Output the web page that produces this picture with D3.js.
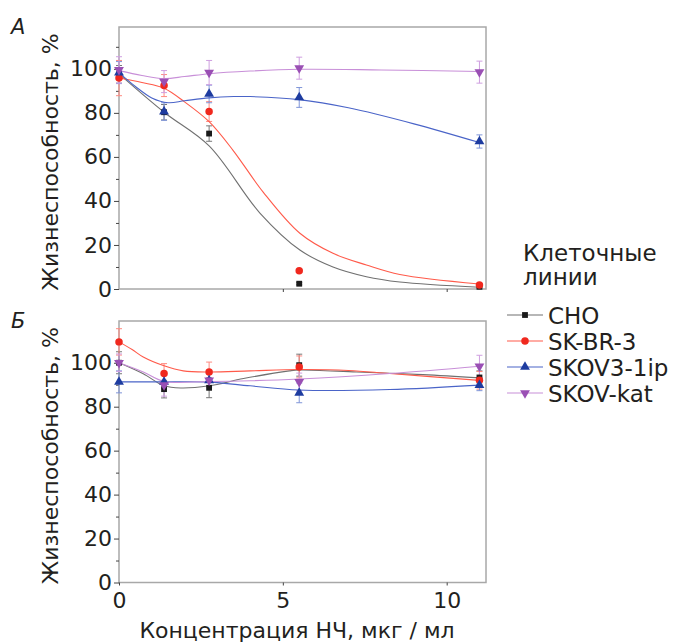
<!DOCTYPE html>
<html>
<head>
<meta charset="utf-8">
<script src="https://cdn.jsdelivr.net/npm/d3@7"></script>
<style>
  body { margin: 0; background: #fff; }
  svg text { font-family: "DejaVu Sans", sans-serif; fill: #231f20; }
</style>
</head>
<body>
<svg id="chart" width="673" height="642"></svg>
<script>
// ---- data ----
const concentrations = [0, 1.375, 2.75, 5.5, 11];
const cellLines = ["CHO", "SK-BR-3", "SKOV3-1ip", "SKOV-kat"];
const xTicks = [0, 5, 10];
const yTicks = [0, 20, 40, 60, 80, 100];
const yMinorTicks = [10, 30, 50, 70, 90, 110];

// panel A: measured means and errors
const aCHO = [97.5, 80.3, 70.6, 2.4, 1.0];
const aSKBR3 = [95.8, 92.4, 80.6, 8.3, 1.8];
const aSKOV3 = [98.3, 80.6, 88.6, 87.0, 67.0];
const aSKOVkat = [99.5, 94.2, 98.3, 100.3, 98.5];
const aCHOerr = [4, 3.5, 3.5, 0.5, 0.5];
const aSKBR3err = [8, 5, 4.5, 0, 0];
const aSKOV3err = [5, 4, 4, 4.5, 3];
const aSKOVkatErr = [6, 5, 5.5, 5, 5];

// panel A: fitted curves (x, y pairs)
const aCHOfit = [[0, 97.7], [1.375, 80.3], [2.75, 65], [4.3, 34.5], [5.52, 17.7], [6.53, 10], [7.55, 5.6], [8.57, 3.2], [11, 0.8]];
const aSKBR3fit = [[0, 95.8], [0.7, 93.8], [1.375, 91.2], [2, 85], [2.75, 76], [3.48, 63], [4.4, 44], [5.52, 25.3], [6.53, 16.2], [7.55, 10.9], [8.57, 6.6], [11, 2.3]];
const aSKOV3fit = [[0, 98.3], [0.5, 92], [1, 86.8], [1.5, 84.6], [2, 85.5], [2.75, 86.8], [3.5, 87.4], [4, 87.4], [5.5, 86], [7, 82.3], [9, 75], [11, 66.5]];
const aSKOVkatFit = [[0, 99.2], [0.7, 97], [1.375, 95.6], [2, 96.5], [2.75, 97.8], [4, 99], [5.5, 99.8], [8, 99.5], [11, 98.8]];

// panel B: measured means and errors
const bCHO = [100, 88, 88.6, 98.9, 93.3];
const bSKBR3 = [109.5, 95.1, 95.8, 98.1, 92];
const bSKOV3 = [91.3, 91.3, 92, 86.3, 89.8];
const bSKOVkat = [100, 89.8, 92, 91.3, 98.4];
const bCHOerr = [5, 4, 4.5, 5, 3];
const bSKBR3err = [6, 4.5, 4.5, 5, 4];
const bSKOV3err = [5, 3, 3, 4.5, 2.5];
const bSKOVkatErr = [4, 5, 3, 4, 5];

// panel B: fitted curves
const bCHOfit = [[0, 100], [0.74, 95], [1.375, 89.5], [1.9, 88.5], [2.75, 89.5], [3.8, 92.8], [5.2, 96.3], [5.5, 96.7], [7.25, 95.8], [9.28, 94.6], [11, 93.1]];
const bSKBR3fit = [[0, 109.5], [0.4, 106], [0.74, 102.6], [1.375, 98.6], [1.96, 96.3], [2.75, 95.8], [4, 96.3], [5.5, 96.9], [7, 96.5], [8.26, 95.1], [11, 92]];
const bSKOV3fit = [[0, 91.3], [1.375, 91.3], [2.75, 91.2], [4, 89.5], [5.5, 87.6], [8.26, 87.8], [11, 89.8]];
const bSKOVkatFit = [[0, 100], [0.74, 95.8], [1.375, 91.5], [2.75, 91.5], [4, 91.8], [5.5, 92.6], [8.26, 95.1], [11, 98.4]];

// ---- styles per cell line ----
const lineColors = ["#707070", "#ff5a4a", "#4a64c8", "#c88fd8"];
const markColors = ["#1a1a1a", "#f0281e", "#1e3ca0", "#9a4fb4"];
const errColors = ["#777777", "#ff8a80", "#7f95d8", "#cf9fe0"];
const symbols = [d3.symbolSquare, d3.symbolCircle, d3.symbolTriangle, d3.symbolTriangle];
const symSizes = [34, 44, 42, 42];
const symRotate = [0, 0, 0, 180];

const panels = [
  { label: "А", top: 27, bottom: 289, means: [aCHO, aSKBR3, aSKOV3, aSKOVkat],
    errs: [aCHOerr, aSKBR3err, aSKOV3err, aSKOVkatErr],
    fits: [aCHOfit, aSKBR3fit, aSKOV3fit, aSKOVkatFit], xLabels: false },
  { label: "Б", top: 321, bottom: 582.5, means: [bCHO, bSKBR3, bSKOV3, bSKOVkat],
    errs: [bCHOerr, bSKBR3err, bSKOV3err, bSKOVkatErr],
    fits: [bCHOfit, bSKBR3fit, bSKOV3fit, bSKOVkatFit], xLabels: true }
];

const svg = d3.select("#chart");
const left = 119, right = 486;

const x = d3.scaleLinear().domain([0, 11.2]).range([left, right]);

panels.forEach(p => {
  const y = d3.scaleLinear().domain([0, 119]).range([p.bottom, p.top]);
  const g = svg.append("g");

  // frame
  g.append("rect")
    .attr("x", left).attr("y", p.top)
    .attr("width", right - left).attr("height", p.bottom - p.top)
    .attr("fill", "none").attr("stroke", "#a8a8a8").attr("stroke-width", 1.5);

  // y axis, major + minor
  const yAxis = g.append("g").attr("transform", `translate(${left},0)`)
    .call(d3.axisLeft(y).tickValues(yTicks).tickSize(5).tickPadding(2));
  yAxis.select(".domain").remove();
  yAxis.selectAll("line").attr("stroke", "#444");
  yAxis.selectAll("text").style("font-size", "22px").attr("fill", "#231f20");

  const yMinor = g.append("g").attr("transform", `translate(${left},0)`)
    .call(d3.axisLeft(y).tickValues(yMinorTicks).tickSize(3).tickFormat(""));
  yMinor.select(".domain").remove();
  yMinor.selectAll("line").attr("stroke", "#444");

  // x axis
  const xAxis = g.append("g").attr("transform", `translate(0,${p.bottom})`)
    .call(d3.axisBottom(x).tickValues(p.xLabels ? xTicks : [5, 10]).tickSize(3).tickPadding(7)
      .tickFormat(p.xLabels ? d3.format("d") : ""));
  xAxis.select(".domain").remove();
  xAxis.selectAll("line").attr("stroke", "#444");
  xAxis.selectAll("text").style("font-size", "22px").attr("fill", "#231f20");

  // y title
  g.append("text")
    .attr("transform", `translate(58,${(p.top + p.bottom) / 2 + 4}) rotate(-90)`)
    .attr("text-anchor", "middle")
    .style("font-size", "22px")
    .text("Жизнеспособность, %");

  // panel letter
  g.append("text")
    .attr("x", 11).attr("y", p.top + 7)
    .style("font-size", "21px").style("font-style", "italic")
    .text(p.label);

  const line = d3.line().x(d => x(d[0])).y(d => y(d[1])).curve(d3.curveCatmullRom.alpha(0.5));

  // error bars first
  p.means.forEach((vals, i) => {
    const eg = g.append("g").attr("stroke", errColors[i]).attr("stroke-width", 1);
    vals.forEach((v, j) => {
      const e = p.errs[i][j];
      if (e <= 0) return;
      const cx = x(concentrations[j]);
      eg.append("line").attr("x1", cx).attr("x2", cx).attr("y1", y(v - e)).attr("y2", y(v + e));
      [v - e, v + e].forEach(b => {
        eg.append("line").attr("x1", cx - 3).attr("x2", cx + 3).attr("y1", y(b)).attr("y2", y(b));
      });
    });
  });

  // fitted lines
  p.fits.forEach((f, i) => {
    g.append("path").datum(f)
      .attr("fill", "none").attr("stroke", lineColors[i]).attr("stroke-width", 1.1)
      .attr("d", line);
  });

  // markers
  p.means.forEach((vals, i) => {
    g.selectAll(null).data(vals).enter().append("path")
      .attr("d", d3.symbol().type(symbols[i]).size(symSizes[i]))
      .attr("transform", (v, j) => `translate(${x(concentrations[j])},${y(v)}) rotate(${symRotate[i]})`)
      .attr("fill", markColors[i]);
  });
});

// x title
svg.append("text")
  .attr("x", 297).attr("y", 638)
  .attr("text-anchor", "middle")
  .style("font-size", "22px")
  .text("Концентрация НЧ, мкг / мл");

// legend
const legend = svg.append("g");
legend.append("text").attr("x", 523).attr("y", 261).style("font-size", "23px").text("Клеточные");
legend.append("text").attr("x", 523).attr("y", 285).style("font-size", "23px").text("линии");

const rowY = d3.scalePoint().domain(cellLines).range([315, 393]);
cellLines.forEach((name, i) => {
  const cy = rowY(name);
  legend.append("line").attr("x1", 507).attr("x2", 543).attr("y1", cy).attr("y2", cy)
    .attr("stroke", lineColors[i]).attr("stroke-width", 1.2);
  legend.append("path")
    .attr("d", d3.symbol().type(symbols[i]).size(symSizes[i]))
    .attr("transform", `translate(525,${cy}) rotate(${symRotate[i]})`)
    .attr("fill", markColors[i]);
  legend.append("text").attr("x", 548).attr("y", cy + 8.5)
    .style("font-size", "23px").text(name);
});
</script>
</body>
</html>
